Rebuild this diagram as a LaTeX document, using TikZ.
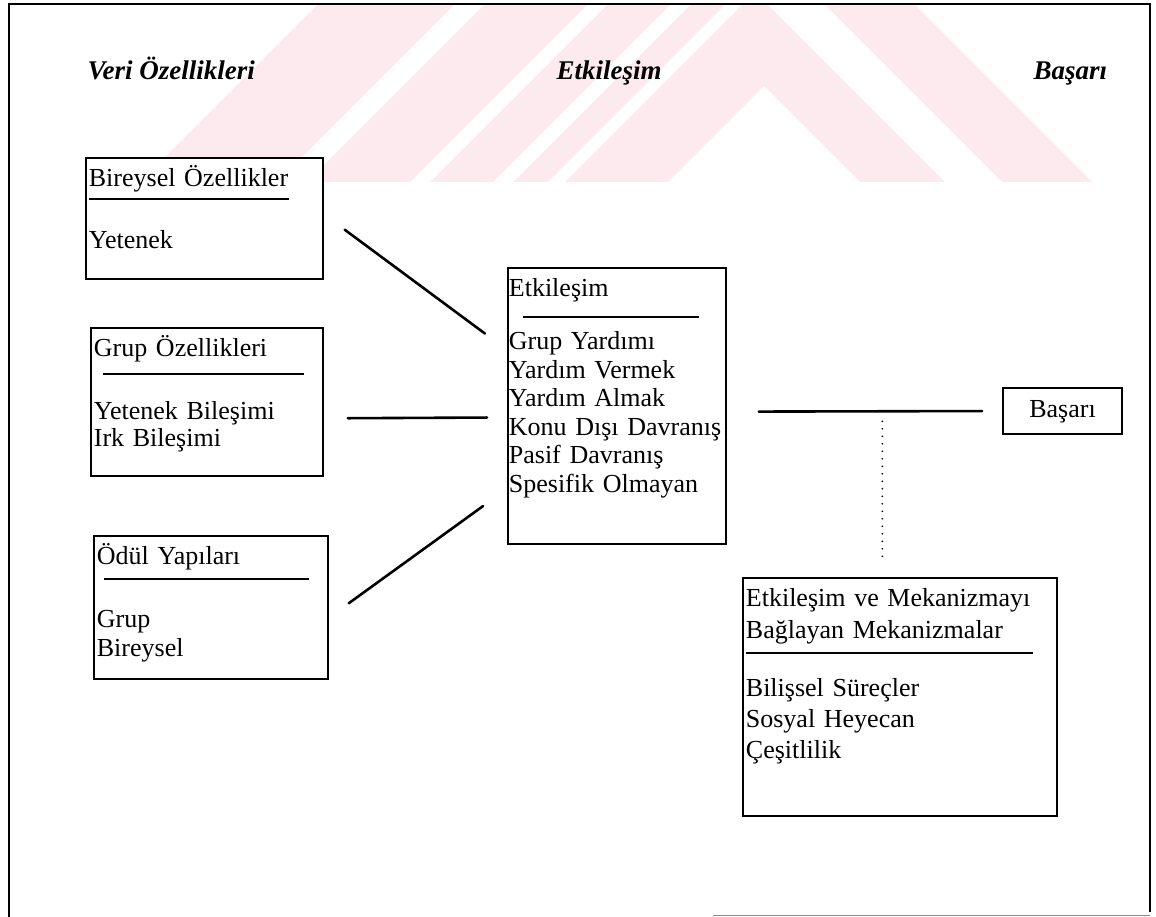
\documentclass[tikz,border=0pt]{standalone}
\usepackage{fontspec}
\setmainfont{Liberation Serif}
\usepackage{tikz}
\definecolor{filigran}{RGB}{253, 234, 238}
\newcommand{\metin}{\fontsize{26}{28.5}\selectfont}

\begin{document}
\begin{tikzpicture}[
  x=1pt, y=-1pt,
  kutu/.style={
    rectangle, draw=black, fill=white, line width=1.8pt,
    anchor=north west, align=left,
    inner xsep=3pt, inner ysep=4pt,
    text height=25pt, font=\metin
  },
  baslik/.style={anchor=base west, font=\fontsize{27}{30}\selectfont\bfseries\itshape},
  cizgi/.style={line width=2.6pt, line cap=round},
  noktali/.style={line width=1.8pt, line cap=round, dash pattern=on 0pt off 7.5pt},
  bant/.style={fill=filigran, draw=none}
]
  \useasboundingbox (0,0) rectangle (1156,917);

  \fill[bant] (140,182) -- (317,5) -- (454,5) -- (277,182) -- cycle;
  \fill[bant] (307,182) -- (484,5) -- (587,5) -- (410,182) -- cycle;
  \fill[bant] (430,182) -- (607,5) -- (670,5) -- (493,182) -- cycle;
  \fill[bant] (513,182) -- (690,5) -- (725,5) -- (548,182) -- cycle;
  \fill[bant] (565,182) -- (742,5) -- (768,5) -- (945,182) -- (860,182) -- (764,86) -- (668,182) -- cycle;
  \fill[bant] (1002,182) -- (825,5) -- (915,5) -- (1092,182) -- cycle;

  \draw[line width=2pt] (9,917) -- (9,4) -- (1150,4) -- (1150,912);
  \draw[line width=1pt, black!45] (713,915) -- (1150,915);

  \node[baslik] (t1) at (84,80) {Veri Özellikleri};
  \node[baslik] (t2) at (553,80) {Etkileşim};
  \node[baslik] (t3) at (1030,80) {Başarı};

  \node[kutu, text width=231pt, text depth=88pt] (bir) at (85,157)
    {Bireysel Özellikler\\[-15.5pt]\rule{200pt}{1.6pt}\\[20.5pt]Yetenek};
  \node[kutu, text width=226pt, text depth=115pt] (grp) at (90,327)
    {Grup Özellikleri\\[-10.5pt]\hspace*{9pt}\rule{201pt}{1.6pt}\\[16.5pt]Yetenek Bileşimi\\[-1.5pt]Irk Bileşimi};
  \node[kutu, text width=228pt, text depth=110pt] (odl) at (93,535)
    {Ödül Yapıları\\[-13.5pt]\hspace*{7pt}\rule{205pt}{1.6pt}\\[19.5pt]Grup\\Bireysel};
  \node[kutu, inner xsep=1pt, text width=216pt, text depth=243pt] (etk) at (507,267)
    {Etkileşim\\[-7.5pt]\hspace*{14pt}\rule{176pt}{1.6pt}\\[3.5pt]Grup Yardımı\\Yardım Vermek\\Yardım Almak\\\mbox{Konu Dışı Davranış}\\Pasif Davranış\\Spesifik Olmayan};
  \node[kutu, text width=308pt, text depth=205pt] (mek) at (742,577)
    {Etkileşim ve Mekanizmayı\\[3.5pt]Bağlayan Mekanizmalar\\[-13.5pt]\rule{287pt}{1.6pt}\\[14.5pt]Bilişsel Süreçler\\[2.5pt]Sosyal Heyecan\\[2.5pt]Çeşitlilik};
  \node[kutu, anchor=center, align=center, text width=113pt, text height=18pt, text depth=6pt, minimum height=46pt] (bas) at (1062.5,411) {Başarı};

  \draw[cizgi, shorten <=26pt, shorten >=27.5pt] (bir.2.5) -- (etk.153.4);
  \draw[cizgi, shorten <=24pt, shorten >=20pt] (grp.-8.3) -- (etk.186.8);
  \draw[cizgi, shorten <=24.7pt, shorten >=29.6pt] (odl.-5.3) -- (etk.217.2);
  \draw[cizgi, shorten <=32pt, shorten >=20pt] (etk.-3.2) -- coordinate[pos=0.565] (kavsak) (bas.west);
  \draw[noktali, shorten <=10pt, shorten >=17pt] (kavsak) -- (kavsak |- mek.north);
\end{tikzpicture}
\end{document}
